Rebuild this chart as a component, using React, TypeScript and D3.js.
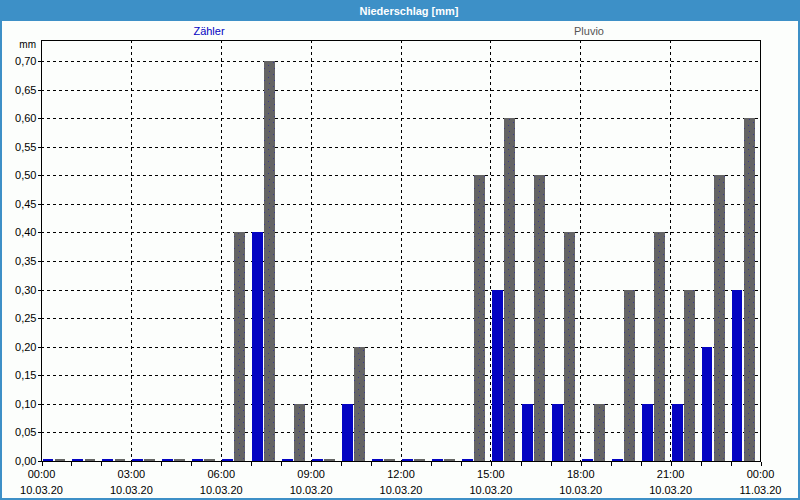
import React, { useEffect, useRef } from 'react';
import * as d3 from 'd3';

// hourly sums, 10.03.20 00:00 .. 11.03.20 00:00
const hours = d3.range(0, 24);
const zaehler = [0, 0, 0, 0, 0, 0, 0, 0.4, 0, 0, 0.1, 0, 0, 0, 0, 0.3, 0.1, 0.1, 0, 0, 0.1, 0.1, 0.2, 0.3];
const pluvio = [0, 0, 0, 0, 0, 0, 0.4, 0.7, 0.1, 0, 0.2, 0, 0, 0, 0.5, 0.6, 0.5, 0.4, 0.1, 0.3, 0.4, 0.3, 0.5, 0.6];
const seriesNames = ['Zähler', 'Pluvio'];
const yTicks = d3.range(0, 15).map(i => i * 0.05);

const width = 800;
const height = 500;
const font = '"Liberation Sans", Arial, sans-serif';

const Chart: React.FC = () => {
  const svgRef = useRef<SVGSVGElement>(null);

  useEffect(() => {
    if (!svgRef.current) return;
    const svg = d3.select(svgRef.current);
    svg.selectAll('*').remove();

    const margin = { top: 40, right: 40, bottom: 39, left: 41 };
    const x0 = margin.left;
    const x1 = width - margin.right;
    const yBottom = height - margin.bottom;

    const start = new Date(2020, 2, 10, 0, 0);
    const end = new Date(2020, 2, 11, 0, 0);
    const xScale = d3.scaleTime().domain([start, end]).range([x0, x1]);
    const yScale = d3.scaleLinear().domain([0, 0.7]).range([yBottom, 61]);
    const slot = xScale(d3.timeHour.offset(start, 1)) - xScale(start);
    const inner = d3.scaleBand<string>()
      .domain(seriesNames)
      .range([1.5, slot - 5.5])
      .paddingInner(0.1);

    const colors: Record<string, string> = { 'Zähler': '#0404c2', 'Pluvio': '#656565' };

    const defs = svg.append('defs');
    const pat = defs.append('pattern')
      .attr('id', 'dots')
      .attr('patternUnits', 'userSpaceOnUse')
      .attr('width', 10)
      .attr('height', 12);
    pat.append('rect').attr('width', 10).attr('height', 12).attr('fill', '#656565');
    [[3, 2], [8, 5], [4, 8], [9, 11]].forEach(([px, py]) => {
      pat.append('rect').attr('x', px).attr('y', py).attr('width', 1).attr('height', 1).attr('fill', '#3a3a8c');
    });

    // background + window frame
    svg.append('rect').attr('width', width).attr('height', height).attr('fill', '#3d90c7');
    svg.append('rect').attr('x', 2).attr('y', 21).attr('width', width - 4).attr('height', height - 23).attr('fill', '#fcfefc');

    svg.append('text')
      .attr('x', 409).attr('y', 15)
      .attr('text-anchor', 'middle')
      .attr('font-family', font).attr('font-size', 11).attr('font-weight', 'bold')
      .attr('fill', '#fff')
      .text('Niederschlag [mm]');

    // legend labels
    svg.append('text')
      .attr('x', 209).attr('y', 35).attr('text-anchor', 'middle')
      .attr('font-family', font).attr('font-size', 11).attr('fill', '#0404c2')
      .text(seriesNames[0]);
    svg.append('text')
      .attr('x', 589).attr('y', 35).attr('text-anchor', 'middle')
      .attr('font-family', font).attr('font-size', 11).attr('fill', '#555')
      .text(seriesNames[1]);

    // grid
    const grid = svg.append('g')
      .attr('stroke', '#000')
      .attr('stroke-dasharray', '3,3')
      .attr('shape-rendering', 'crispEdges');
    grid.selectAll('line.h')
      .data(yTicks.slice(1))
      .join('line')
      .attr('x1', x0).attr('x2', x1)
      .attr('y1', d => Math.round(yScale(d)) + 0.5)
      .attr('y2', d => Math.round(yScale(d)) + 0.5);
    const majorTicks = xScale.ticks(d3.timeHour.every(3) as d3.TimeInterval);
    grid.selectAll('line.v')
      .data(majorTicks.slice(1, -1))
      .join('line')
      .attr('x1', d => Math.round(xScale(d)) + 0.5)
      .attr('x2', d => Math.round(xScale(d)) + 0.5)
      .attr('y1', margin.top).attr('y2', yBottom);

    // bars
    const rows = hours.flatMap(h => [
      { h, key: 'Zähler', v: zaehler[h] },
      { h, key: 'Pluvio', v: pluvio[h] },
    ]);
    svg.append('g')
      .attr('shape-rendering', 'crispEdges')
      .selectAll('rect')
      .data(rows)
      .join('rect')
      .attr('x', d => xScale(d3.timeHour.offset(start, d.h)) + (inner(d.key) as number))
      .attr('width', inner.bandwidth())
      .attr('y', d => Math.min(yScale(d.v), yBottom - 2))
      .attr('height', d => Math.max(yBottom - yScale(d.v), 2))
      .attr('fill', d => (d.key === 'Pluvio' ? 'url(#dots)' : colors[d.key]));

    // frame
    svg.append('path')
      .attr('d', `M${x0 + 0.5},${yBottom}V${margin.top + 0.5}H${x1 + 0.5}V${yBottom}`)
      .attr('fill', 'none')
      .attr('stroke', '#000')
      .attr('shape-rendering', 'crispEdges');

    // y axis
    const fmt = d3.formatLocale({ decimal: ',', thousands: '.', grouping: [3], currency: ['', ' €'] }).format('.2f');
    const yAxis = d3.axisLeft(yScale)
      .tickValues(yTicks)
      .tickFormat(d => fmt(d as number))
      .tickSize(4)
      .tickSizeOuter(0)
      .tickPadding(1);
    const yg = svg.append('g')
      .attr('transform', `translate(${x0 + 0.5},0)`)
      .call(yAxis);
    yg.select('.domain').remove();
    yg.selectAll('text').attr('font-family', font).attr('font-size', 11).attr('fill', '#000');
    yg.selectAll('line').attr('shape-rendering', 'crispEdges');

    svg.append('text')
      .attr('x', 36).attr('y', 48).attr('text-anchor', 'end')
      .attr('font-family', font).attr('font-size', 10).attr('fill', '#000')
      .text('mm');

    // x axis
    const xAxis = d3.axisBottom(xScale)
      .ticks(d3.timeHour.every(1) as d3.TimeInterval)
      .tickFormat(() => '')
      .tickSize(4)
      .tickSizeOuter(0);
    const xg = svg.append('g')
      .attr('transform', `translate(0.5,${yBottom + 0.5})`)
      .call(xAxis);
    xg.select('.domain').attr('d', `M${x0},0H${x1}`).attr('shape-rendering', 'crispEdges');
    xg.selectAll('line').attr('shape-rendering', 'crispEdges');

    const timeFmt = d3.timeFormat('%H:%M');
    const dateFmt = d3.timeFormat('%d.%m.%y');
    const labels = svg.append('g')
      .attr('font-family', font).attr('font-size', 11).attr('fill', '#000')
      .attr('text-anchor', 'middle');
    labels.selectAll('text.t')
      .data(majorTicks)
      .join('text')
      .attr('x', d => xScale(d) + 0.5)
      .attr('y', 478)
      .text(d => timeFmt(d));
    labels.selectAll('text.d')
      .data(majorTicks)
      .join('text')
      .attr('x', d => xScale(d) + 0.5)
      .attr('y', 494)
      .text(d => dateFmt(d));
  }, []);

  return <svg ref={svgRef} width={width} height={height} style={{ display: 'block' }}></svg>;
};

const App: React.FC = () => (
  <div style={{ position: 'absolute', left: 0, top: 0 }}>
    <Chart />
  </div>
);

export default App;
